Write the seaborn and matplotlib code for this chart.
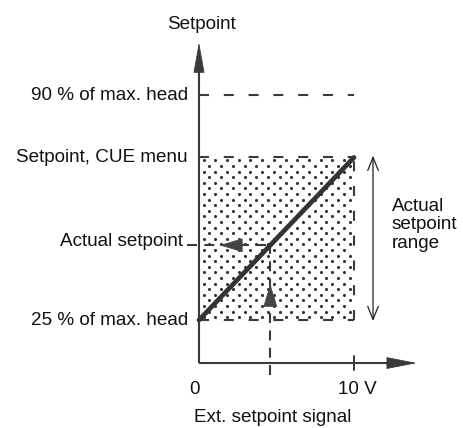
import numpy as np
import pandas as pd
import matplotlib
matplotlib.use("Agg")
import matplotlib.pyplot as plt
import seaborn as sns
from matplotlib.patches import FancyArrowPatch

sns.set_theme(style="white")
plt.rcParams["font.family"] = ["Liberation Sans", "DejaVu Sans"]

# signal range (V) and setpoint levels (% of max. head)
signal_v = [0, 10]
setpoint_pct = [25, 72]
max_level_pct = 90
actual_signal_v = 4.6
level_labels = ["90 % of max. head", "Setpoint, CUE menu", "Actual setpoint", "25 % of max. head"]
tick_labels = ["0", "10 V"]

actual_pct = setpoint_pct[0] + (setpoint_pct[1] - setpoint_pct[0]) * actual_signal_v / signal_v[1]

W, H, DPI = 464, 428, 100
fig = plt.figure(figsize=(W / DPI, H / DPI), dpi=DPI)
ax = fig.add_axes([0, 0, 1, 1])
ax.set_xlim(-12.84, 17.10)
ax.set_ylim(-6.2, 117.5)
ax.axis("off")

ink = "#3a3a3a"
text_c = "#111111"
axis_y0 = 12.57
fs = 13.6
dash = (0, (4.8, 7.1))


def head(ax, tail, tip, length, half_width, color="#3a3a3a", filled=True, z=4):
    style = "-|>" if filled else "->"
    ax.add_patch(FancyArrowPatch(tail, tip, arrowstyle=f"{style},head_length={length},head_width={half_width}",
                                 mutation_scale=1, color=color, lw=0.6 if filled else 0.9,
                                 shrinkA=0, shrinkB=0, zorder=z))


# stippled setpoint range
x0, x1 = signal_v
y0, y1 = setpoint_pct
dx, dy = 0.755, 1.62
rows = np.arange(y0 + 0.8, y1, dy)
px, py = [], []
for i, yy in enumerate(rows):
    xs = np.arange(x0 + 0.3 + (dx / 2) * (i % 2), x1, dx)
    px.extend(xs)
    py.extend([yy] * len(xs))
ax.scatter(px, py, s=5.0, marker="o", color="#333333", linewidths=0, zorder=1)

ax.plot([x0, x1], [y1] * 2, color=ink, lw=1.5, ls=dash, zorder=2)
ax.plot([x0, x1], [y0] * 2, color=ink, lw=1.5, ls=dash, zorder=2)
ax.plot([x1] * 2, [y0, y1], color=ink, lw=1.5, ls=dash, zorder=2)
ax.plot([x0, x1], [max_level_pct] * 2, color=ink, lw=1.5, ls=dash, zorder=2)

# axes with arrow heads
ax.plot([0, 0], [axis_y0, 98.0], color=ink, lw=1.5, solid_capstyle="butt", zorder=3)
head(ax, (0, 95.0), (0, 105.3), 20, 3.6)
ax.plot([0, 13.0], [axis_y0, axis_y0], color=ink, lw=1.5, solid_capstyle="butt", zorder=3)
head(ax, (12.0, axis_y0), (14.06, axis_y0), 20, 3.9)
ax.plot([x1] * 2, [axis_y0 - 2.0, axis_y0 + 2.0], color=ink, lw=1.4, zorder=3)

# characteristic
df = pd.DataFrame({"signal": signal_v, "setpoint": setpoint_pct})
sns.lineplot(data=df, x="signal", y="setpoint", ax=ax, color="#333333", lw=3.4, zorder=5)

# actual setpoint readout
ax.plot([actual_signal_v] * 2, [9.1, actual_pct], color=ink, lw=1.5, ls=(0, (4.8, 3.5)), zorder=3)
ax.plot([-0.77, actual_signal_v], [actual_pct] * 2, color=ink, lw=1.5, ls=(0, (4.8, 3.5)), zorder=3)
head(ax, (actual_signal_v, 29.0), (actual_signal_v, 35.4), 15, 4.6, color="#444444")
head(ax, (2.84, actual_pct), (1.35, actual_pct), 15, 4.6, color="#444444")

# range indicator
ax.add_patch(FancyArrowPatch((11.23, setpoint_pct[0] - 0.3), (11.23, setpoint_pct[1] + 0.5),
                             arrowstyle="<->,head_length=9.4,head_width=3.8", mutation_scale=1,
                             color="#222222", lw=0.9, shrinkA=0, shrinkB=0))
ax.text(12.45, 52.5, "Actual\nsetpoint\nrange", fontsize=fs, ha="left", va="center",
        linespacing=1.12, color=text_c)

# level labels
ax.text(-0.71, max_level_pct, level_labels[0], fontsize=fs, ha="right", va="center", color=text_c)
ax.text(-0.71, setpoint_pct[1], level_labels[1], fontsize=fs, ha="right", va="center", color=text_c)
ax.text(-1.03, actual_pct + 1.0, level_labels[2], fontsize=fs, ha="right", va="center", color=text_c)
ax.text(-0.71, setpoint_pct[0], level_labels[3], fontsize=fs, ha="right", va="center", color=text_c)

ax.text(0.19, 110.5, "Setpoint", fontsize=fs, ha="center", va="center", color=text_c)
ax.text(-0.26, 4.8, tick_labels[0], fontsize=fs, ha="center", va="center", color=text_c)
ax.text(10.19, 4.8, tick_labels[1], fontsize=fs, ha="center", va="center", color=text_c)
ax.text(4.77, -3.3, "Ext. setpoint signal", fontsize=fs, ha="center", va="center", color=text_c)

fig.savefig("out.png", dpi=DPI)
